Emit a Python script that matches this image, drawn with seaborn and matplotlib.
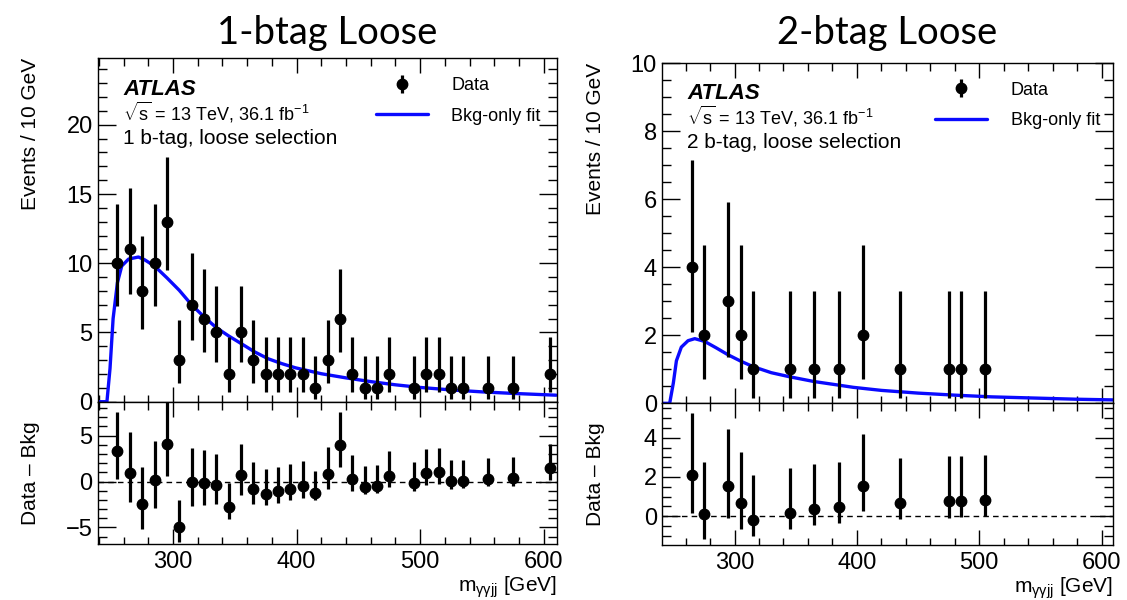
import matplotlib
matplotlib.use("Agg")
import matplotlib.pyplot as plt
from matplotlib.ticker import MultipleLocator
import pandas as pd
import seaborn as sns

# ---------------- data: 1 b-tag, loose selection ----------------
x_1b = [255, 265, 275, 285, 295, 305, 315, 325, 335, 345,
        355, 365, 375, 385, 395, 405, 415, 425, 435, 445,
        455, 465, 475, 495, 505, 515, 525, 535, 555, 575, 605]
n_1b = [10, 11, 8, 10, 13, 3, 7, 6, 5, 2,
        5, 3, 2, 2, 2, 2, 1, 3, 6, 2,
        1, 1, 2, 1, 2, 2, 1, 1, 1, 1, 2]
errlo_1b = [3.08, 3.24, 2.75, 3.08, 3.52, 1.63, 2.57, 2.38, 2.16, 1.29,
            2.16, 1.63, 1.29, 1.29, 1.29, 1.29, 0.83, 1.63, 2.38, 1.29,
            0.83, 0.83, 1.29, 0.83, 1.29, 1.29, 0.83, 0.83, 0.83, 0.83, 1.29]
errhi_1b = [4.26, 4.41, 3.94, 4.26, 4.68, 2.92, 3.77, 3.58, 3.38, 2.64,
            3.38, 2.92, 2.64, 2.64, 2.64, 2.64, 2.30, 2.92, 3.58, 2.64,
            2.30, 2.30, 2.64, 2.30, 2.64, 2.64, 2.30, 2.30, 2.30, 2.30, 2.64]
diff_1b = [3.35, 0.98, -2.4, 0.18, 4.1, -4.9, -0.07, -0.15, -0.33, -2.8,
           0.7, -0.76, -1.3, -1.05, -0.76, -0.45, -1.2, 0.85, 4.0, 0.3,
           -0.55, -0.45, 0.65, -0.2, 0.9, 1.05, 0.05, 0.1, 0.3, 0.35, 1.5]
fit_x_1b = [240, 246.5, 249, 251.5, 255, 258.5, 264, 272, 277, 285, 295, 305,
            315, 326, 335, 345, 356, 366, 377, 388, 399, 420, 440, 460, 480,
            500, 525, 550, 575, 610]
fit_y_1b = [0, 0, 2.4, 6.0, 8.6, 9.8, 10.3, 10.45, 10.25, 9.8, 8.95, 8.05,
            7.0, 6.05, 5.35, 4.75, 4.15, 3.6, 3.1, 2.75, 2.45, 2.02, 1.72, 1.45,
            1.22, 1.03, 0.85, 0.71, 0.6, 0.47]

# ---------------- data: 2 b-tag, loose selection ----------------
x_2b = [265, 275, 295, 305, 315, 345, 365, 385, 405, 435, 475, 485, 505]
n_2b = [4, 2, 3, 2, 1, 1, 1, 1, 2, 1, 1, 1, 1]
errlo_2b = [1.91, 1.29, 1.63, 1.29, 0.83, 0.83, 0.83, 0.83, 1.29, 0.83, 0.83, 0.83, 0.83]
errhi_2b = [3.16, 2.64, 2.92, 2.64, 2.30, 2.30, 2.30, 2.30, 2.64, 2.30, 2.30, 2.30, 2.30]
diff_2b = [2.09, 0.12, 1.52, 0.65, -0.19, 0.17, 0.36, 0.46, 1.56, 0.67, 0.75, 0.77, 0.82]
fit_x_2b = [240, 247, 250, 252.5, 256.5, 262, 267.5, 275.5, 285, 294.5, 305,
            315, 330, 345, 365, 384, 397, 420, 450, 480, 510, 550, 580, 610]
fit_y_2b = [0, 0, 0.6, 1.25, 1.65, 1.84, 1.90, 1.82, 1.63, 1.43, 1.24,
            1.08, 0.9, 0.78, 0.64, 0.54, 0.47, 0.38, 0.3, 0.24, 0.19, 0.15, 0.12, 0.1]

titles = ["1-btag Loose", "2-btag Loose"]
selection_text = ["1 b-tag, loose selection", "2 b-tag, loose selection"]

# ---------------- style ----------------
sns.set_theme(style="ticks")
plt.rcParams["font.family"] = ["Liberation Sans", "DejaVu Sans"]
plt.rcParams["mathtext.fontset"] = "custom"
plt.rcParams["mathtext.rm"] = "Liberation Sans"
plt.rcParams["mathtext.it"] = "Liberation Sans:italic"
plt.rcParams["mathtext.bf"] = "Liberation Sans:bold"
plt.rcParams["axes.linewidth"] = 1.0
plt.rcParams["text.color"] = "black"
plt.rcParams["axes.labelcolor"] = "black"
plt.rcParams["xtick.color"] = "black"
plt.rcParams["ytick.color"] = "black"

fig = plt.figure(figsize=(11.27, 6.0), dpi=100)
fig.patch.set_facecolor("white")

panels = [
    dict(x=x_1b, n=n_1b, lo=errlo_1b, hi=errhi_1b, d=diff_1b, fx=fit_x_1b, fy=fit_y_1b,
         main=[0.0872, 0.3305, 0.4068, 0.5723], rat=[0.0872, 0.0933, 0.4068, 0.2372],
         xlim=(239.5, 610.5), ylim=(0, 24.8), rlim=(-6.8, 8.7),
         ymaj=5, ymin=1, rmaj=5, rmin=1),
    dict(x=x_2b, n=n_2b, lo=errlo_2b, hi=errhi_2b, d=diff_2b, fx=fit_x_2b, fy=fit_y_2b,
         main=[0.5877, 0.3278, 0.3996, 0.5672], rat=[0.5877, 0.0917, 0.3996, 0.2361],
         xlim=(241, 609), ylim=(0, 10), rlim=(-1.47, 5.76),
         ymaj=2, ymin=0.5, rmaj=2, rmin=0.5),
]

TICK_FS = 17
BLUE = "#0a0aff"


def style_axis(ax, xlim, ylim, ymaj, ymin):
    ax.set_facecolor("white")
    ax.set_xlim(*xlim)
    ax.set_ylim(*ylim)
    ax.xaxis.set_major_locator(MultipleLocator(100))
    ax.xaxis.set_minor_locator(MultipleLocator(20))
    ax.yaxis.set_major_locator(MultipleLocator(ymaj))
    ax.yaxis.set_minor_locator(MultipleLocator(ymin))
    ax.tick_params(axis="both", which="both", direction="in", top=True, right=True,
                   color="black", width=1.0, labelsize=TICK_FS, labelcolor="black")
    ax.tick_params(axis="x", which="major", length=10.8, pad=5)
    ax.tick_params(axis="x", which="minor", length=5.4)
    ax.tick_params(axis="y", which="major", length=13, pad=4)
    ax.tick_params(axis="y", which="minor", length=6.5)
    for s in ax.spines.values():
        s.set_color("black")
        s.set_linewidth(1.0)


for i, p in enumerate(panels):
    ax = fig.add_axes(p["main"])
    axr = fig.add_axes(p["rat"])

    fit_df = pd.DataFrame({"m": p["fx"], "bkg": p["fy"]})
    sns.lineplot(data=fit_df, x="m", y="bkg", ax=ax, color=BLUE, lw=2.4,
                 estimator=None, sort=True, zorder=2)
    fit_line = ax.lines[-1]

    eb = ax.errorbar(p["x"], p["n"], yerr=[p["lo"], p["hi"]], fmt="o", color="black",
                     ms=7.5, elinewidth=2.3, capsize=0, zorder=3, clip_on=True)

    style_axis(ax, p["xlim"], p["ylim"], p["ymaj"], p["ymin"])
    ax.tick_params(axis="x", labelbottom=False)
    ax.set_xlabel("")
    ax.set_ylabel("Events / 10 GeV", fontsize=15, loc="top", color="black")
    ax.yaxis.set_label_coords(-0.128, 1.0)

    ax.text(0.055, 0.94, "ATLAS", transform=ax.transAxes, fontsize=16,
            fontweight="bold", fontstyle="italic", va="top", ha="left", color="black")
    ax.text(0.055, 0.88, r"$\sqrt{\mathrm{s}}$ = 13 TeV, 36.1 fb$^{-1}$",
            transform=ax.transAxes, fontsize=13, va="top", ha="left", color="black")
    ax.text(0.055, 0.795, selection_text[i], transform=ax.transAxes, fontsize=15,
            va="top", ha="left", color="black")

    ax.legend(handles=[eb, fit_line], labels=["Data", "Bkg-only fit"],
              loc="upper left", bbox_to_anchor=(0.605, 0.945), frameon=False,
              fontsize=13, handlelength=2.9, handletextpad=1.3, labelspacing=0.74,
              borderpad=0, borderaxespad=0, labelcolor="black")

    # ratio panel
    axr.axhline(0, color="black", lw=1.0, ls=(0, (4, 3)), zorder=1)
    axr.errorbar(p["x"], p["d"], yerr=[p["lo"], p["hi"]], fmt="o", color="black",
                 ms=7.5, elinewidth=2.3, capsize=0, zorder=3)
    style_axis(axr, p["xlim"], p["rlim"], p["rmaj"], p["rmin"])
    axr.set_ylabel("Data \u2013 Bkg", fontsize=15, color="black")
    axr.yaxis.set_label_coords(-0.128, 0.5)
    axr.set_xlabel(r"m$_{\mathrm{\gamma\gamma jj}}$ [GeV]", fontsize=15, loc="right",
                   color="black")
    axr.xaxis.set_label_coords(1.0, -0.215)

    cx = p["main"][0] + p["main"][2] / 2
    fig.text(cx, 0.945, titles[i], fontsize=27.5, ha="center", va="center",
             family=["Lato", "DejaVu Sans"], color="black")

fig.savefig("out.png", dpi=100, facecolor="white")
